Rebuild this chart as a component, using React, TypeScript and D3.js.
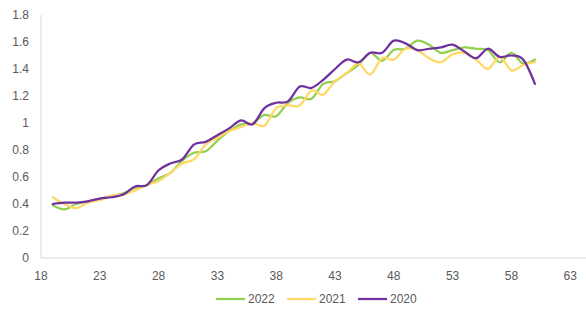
import React, { useEffect, useRef } from "react";
import * as d3 from "d3";

// weeks along the x axis
const weeks: number[] = d3.range(19, 61);

const s2022: number[] = [
  0.39, 0.36, 0.4, 0.42, 0.44, 0.46, 0.48, 0.52, 0.54, 0.59,
  0.63, 0.72, 0.78, 0.79, 0.87, 0.94, 0.99, 1.0, 1.06, 1.05,
  1.15, 1.19, 1.18, 1.29, 1.31, 1.37, 1.43, 1.52, 1.46, 1.54,
  1.55, 1.61, 1.58, 1.52, 1.54, 1.56, 1.55, 1.54, 1.45, 1.52,
  1.44, 1.47,
];

const s2021: number[] = [
  0.45, 0.4, 0.37, 0.41, 0.43, 0.46, 0.47, 0.5, 0.54, 0.57,
  0.63, 0.7, 0.73, 0.84, 0.89, 0.94, 0.97, 1.0, 0.98, 1.11,
  1.13, 1.13, 1.24, 1.21, 1.31, 1.37, 1.44, 1.36, 1.48, 1.47,
  1.55, 1.54, 1.48, 1.45, 1.51, 1.52, 1.47, 1.4, 1.49, 1.39,
  1.43, 1.45,
];

const s2020: number[] = [
  0.4, 0.41, 0.41, 0.42, 0.44, 0.45, 0.47, 0.53, 0.54, 0.65,
  0.7, 0.73, 0.84, 0.86, 0.91, 0.96, 1.02, 0.99, 1.11, 1.15,
  1.16, 1.27, 1.26, 1.32, 1.4, 1.47, 1.45, 1.52, 1.52, 1.61,
  1.59, 1.54, 1.55, 1.56, 1.58, 1.53, 1.48, 1.55, 1.49, 1.5,
  1.47, 1.29,
];

const seriesNames = ["2022", "2021", "2020"];
const seriesColors = ["#92D050", "#FFD966", "#7030A0"];
const xTicks = [18, 23, 28, 33, 38, 43, 48, 53, 58, 63];
const yTicks = [0, 0.2, 0.4, 0.6, 0.8, 1, 1.2, 1.4, 1.6, 1.8];

const App = () => {
  const ref = useRef<SVGSVGElement>(null);

  const width = 586;
  const height = 310;
  const margin = { top: 15, left: 41, bottom: 52 };

  useEffect(() => {
    const svg = d3.select(ref.current);
    svg.selectAll("*").remove();

    const font = "'Liberation Sans', Arial, sans-serif";

    const xScale = d3
      .scaleLinear()
      .domain([18, 65])
      .range([margin.left, margin.left + 47 * 11.76]);

    const yScale = d3
      .scaleLinear()
      .domain([0, 1.8])
      .range([height - margin.bottom, margin.top]);

    // axis lines
    svg
      .append("line")
      .attr("x1", xScale(18))
      .attr("x2", xScale(18))
      .attr("y1", yScale(1.8))
      .attr("y2", yScale(0))
      .attr("stroke", "#D9D9D9")
      .attr("stroke-width", 1);

    svg
      .append("line")
      .attr("x1", xScale(18))
      .attr("x2", xScale(65))
      .attr("y1", yScale(0))
      .attr("y2", yScale(0))
      .attr("stroke", "#D9D9D9")
      .attr("stroke-width", 1);

    // y tick labels
    svg
      .append("g")
      .selectAll("text")
      .data(yTicks)
      .join("text")
      .attr("x", 29)
      .attr("y", (d) => yScale(d))
      .attr("dy", "0.35em")
      .attr("text-anchor", "end")
      .attr("font-family", font)
      .attr("font-size", 12)
      .attr("fill", "#595959")
      .text((d) => d3.format("~g")(d));

    // x tick labels
    svg
      .append("g")
      .selectAll("text")
      .data(xTicks)
      .join("text")
      .attr("x", (d) => xScale(d))
      .attr("y", yScale(0) + 22)
      .attr("text-anchor", "middle")
      .attr("font-family", font)
      .attr("font-size", 12)
      .attr("fill", "#595959")
      .text((d) => d);

    const line = d3
      .line<number>()
      .x((d, i) => xScale(weeks[i]))
      .y((d) => yScale(d))
      .curve(d3.curveCardinal.tension(0));

    const data = [s2022, s2021, s2020];
    data.forEach((d, idx) => {
      svg
        .append("path")
        .datum(d)
        .attr("fill", "none")
        .attr("stroke", seriesColors[idx])
        .attr("stroke-width", 2.25)
        .attr("stroke-linejoin", "round")
        .attr("stroke-linecap", "round")
        .attr("d", line);
    });

    // legend
    const legendX = [216, 287, 358];
    const legend = svg
      .append("g")
      .selectAll("g")
      .data(seriesNames)
      .join("g")
      .attr("transform", (d, i) => `translate(${legendX[i]},${height - 11})`);

    legend
      .append("line")
      .attr("x1", 0)
      .attr("x2", 29)
      .attr("y1", 0)
      .attr("y2", 0)
      .attr("stroke", (d, i) => seriesColors[i])
      .attr("stroke-width", 2.25);

    legend
      .append("text")
      .attr("x", 32)
      .attr("y", 0)
      .attr("dy", "0.35em")
      .attr("font-family", font)
      .attr("font-size", 12)
      .attr("fill", "#595959")
      .text((d) => d);
  }, []);

  return (
    <div>
      <svg
        ref={ref}
        width={width}
        height={height}
        style={{ position: "absolute", left: 0, top: 0, background: "#fff" }}
      ></svg>
    </div>
  );
};

export default App;
